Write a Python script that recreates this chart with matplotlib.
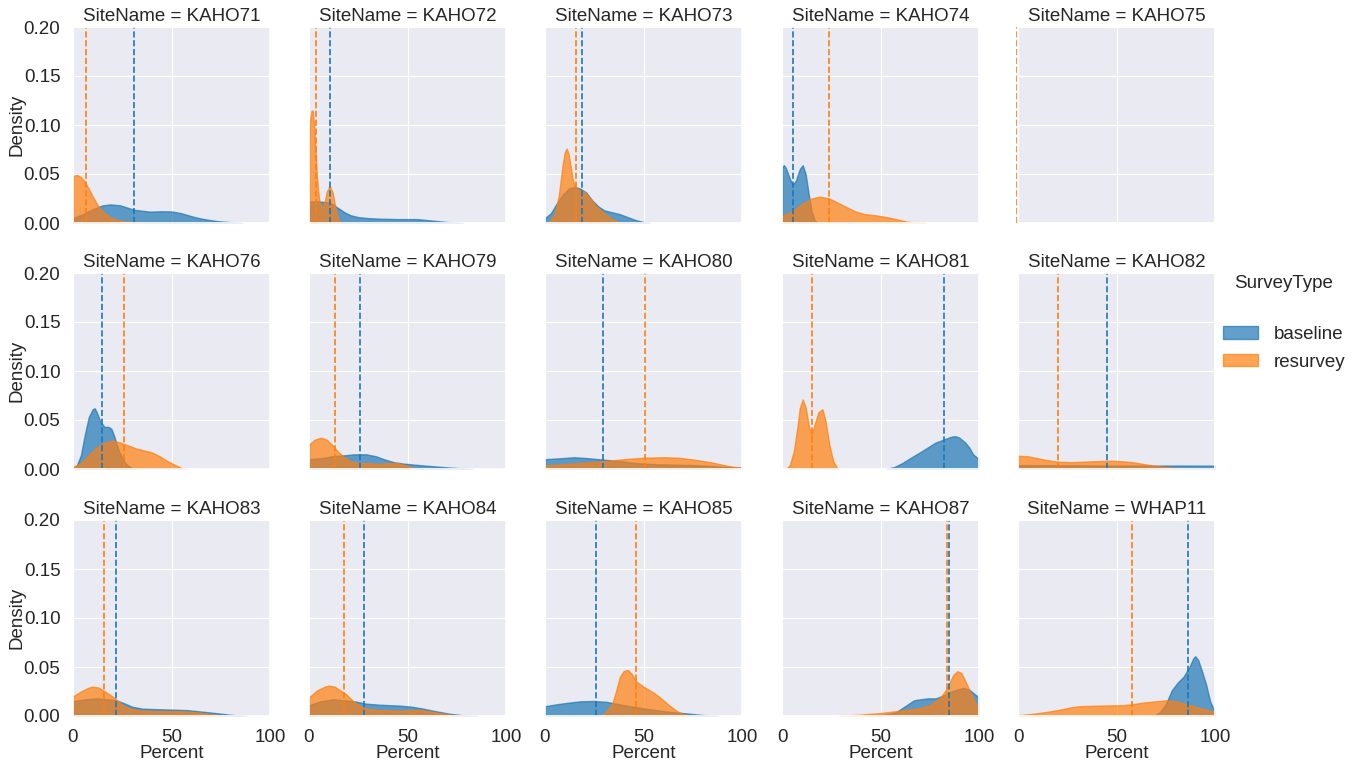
import numpy as np
import seaborn as sns
from matplotlib import pyplot as plt
from matplotlib.patches import Patch

sites = ["KAHO71", "KAHO72", "KAHO73", "KAHO74", "KAHO75",
         "KAHO76", "KAHO79", "KAHO80", "KAHO81", "KAHO82",
         "KAHO83", "KAHO84", "KAHO85", "KAHO87", "WHAP11"]

# density curves: (Percent, Density)
kaho71_base = [(0, 0.005), (5, 0.009), (10, 0.014), (15, 0.018), (19, 0.019), (24, 0.018), (31, 0.0135),
               (39, 0.0116), (45, 0.012), (50, 0.0118), (55, 0.01), (60, 0.007), (64, 0.005), (68, 0.0035),
               (73, 0.002), (79, 0.001), (86, 0)]
kaho71_res = [(0, 0.048), (2, 0.049), (4, 0.047), (6, 0.042), (8, 0.035), (10, 0.027), (12, 0.02),
              (14, 0.014), (16, 0.01), (18, 0.007), (21, 0.004), (25, 0.002), (30, 0.001), (35, 0)]
kaho72_base = [(0, 0.022), (5, 0.022), (10, 0.021), (12, 0.019), (15, 0.015), (18, 0.011), (21, 0.008),
               (25, 0.006), (30, 0.005), (35, 0.0045), (45, 0.004), (55, 0.004), (60, 0.003), (65, 0.002),
               (70, 0.001), (78, 0)]
kaho72_res = [(0, 0.085), (0.5, 0.104), (1.2, 0.114), (1.8, 0.115), (2.5, 0.103), (3.2, 0.078), (4, 0.048),
              (5, 0.026), (6, 0.017), (7, 0.016), (8, 0.022), (9, 0.032), (10.5, 0.038), (12, 0.031),
              (13, 0.02), (14, 0.01), (15, 0.004), (16, 0)]
kaho73_base = [(0, 0.005), (3, 0.01), (6, 0.02), (9, 0.029), (12, 0.035), (15, 0.037), (18, 0.035),
               (21, 0.031), (24, 0.023), (27, 0.017), (30, 0.013), (34, 0.011), (38, 0.009), (42, 0.006),
               (46, 0.003), (50, 0.001), (53, 0)]
kaho73_res = [(1.5, 0), (3, 0.003), (5, 0.01), (7, 0.028), (9, 0.06), (10, 0.072), (11, 0.076), (12, 0.07),
              (13, 0.058), (14, 0.045), (15, 0.038), (17, 0.034), (20, 0.032), (23, 0.025), (26, 0.017),
              (30, 0.01), (34, 0.004), (38, 0)]
kaho74_base = [(0, 0.057), (1, 0.059), (2, 0.056), (4, 0.045), (5.5, 0.039), (7, 0.043), (9, 0.055),
               (10.5, 0.059), (12, 0.05), (13.5, 0.03), (15, 0.012), (16.5, 0.003), (18, 0)]
kaho74_res = [(0, 0.007), (5, 0.012), (10, 0.019), (15, 0.025), (19, 0.027), (24, 0.025), (29, 0.02),
              (33, 0.016), (37, 0.012), (42, 0.009), (47, 0.008), (53, 0.006), (58, 0.004), (63, 0.0015),
              (68, 0.0005), (73, 0)]
kaho75_base = []
kaho75_res = []
kaho76_base = [(0, 0.0), (2, 0.004), (4, 0.014), (6, 0.035), (8, 0.053), (10, 0.061), (11, 0.062),
               (12, 0.058), (14, 0.048), (16, 0.043), (18, 0.043), (19.5, 0.041), (21, 0.033), (23, 0.02),
               (25, 0.011), (27, 0.005), (29, 0.002), (31, 0)]
kaho76_res = [(0, 0.002), (4, 0.006), (8, 0.014), (12, 0.022), (16, 0.027), (20, 0.029), (24, 0.027),
              (28, 0.024), (32, 0.021), (36, 0.019), (40, 0.017), (44, 0.013), (48, 0.008), (52, 0.004),
              (55, 0.001), (58, 0)]
kaho79_base = [(0, 0.01), (6, 0.011), (12, 0.013), (18, 0.014), (23, 0.015), (29, 0.015), (34, 0.013),
               (38, 0.01), (43, 0.007), (48, 0.0055), (56, 0.004), (62, 0.003), (68, 0.002), (75, 0.001),
               (83, 0)]
kaho79_res = [(0, 0.025), (3, 0.03), (6, 0.032), (9, 0.03), (12, 0.024), (15, 0.017), (18, 0.012),
              (21, 0.008), (25, 0.006), (30, 0.006), (35, 0.005), (40, 0.006), (45, 0.006), (50, 0.003),
              (55, 0)]
kaho80_base = [(0, 0.01), (8, 0.011), (15, 0.012), (22, 0.011), (30, 0.0095), (38, 0.008), (46, 0.006),
               (55, 0.005), (65, 0.0045), (75, 0.004), (85, 0.003), (92, 0.002), (100, 0.0015)]
kaho80_res = [(0, 0.0035), (10, 0.005), (20, 0.0065), (30, 0.008), (40, 0.01), (50, 0.0115), (60, 0.012),
              (68, 0.0115), (76, 0.0095), (84, 0.007), (92, 0.0035), (100, 0.001)]
kaho81_base = [(53, 0), (57, 0.002), (61, 0.006), (65, 0.011), (70, 0.017), (74, 0.022), (78, 0.027),
               (82, 0.03), (86, 0.033), (88, 0.0335), (90, 0.032), (93, 0.027), (95, 0.022), (97, 0.015),
               (100, 0.01)]
kaho81_res = [(2, 0), (4, 0.004), (6, 0.018), (8, 0.045), (9, 0.062), (10.5, 0.071), (12, 0.063),
              (13.5, 0.045), (15, 0.035), (16.5, 0.045), (18.5, 0.058), (20.5, 0.061), (22, 0.05),
              (24, 0.025), (26, 0.008), (28, 0.001), (29, 0)]
kaho82_base = [(0, 0.004), (20, 0.0038), (40, 0.0036), (60, 0.0035), (80, 0.0035), (100, 0.0034)]
kaho82_res = [(0, 0.0135), (5, 0.013), (10, 0.011), (15, 0.009), (20, 0.0075), (27, 0.007), (33, 0.0075),
              (40, 0.008), (46, 0.0085), (52, 0.008), (58, 0.007), (64, 0.005), (70, 0.003), (76, 0.0017),
              (82, 0.0005), (86, 0)]
kaho83_base = [(0, 0.015), (6, 0.017), (12, 0.018), (18, 0.017), (22, 0.016), (26, 0.013), (30, 0.0095),
               (35, 0.0075), (42, 0.007), (51, 0.0065), (58, 0.006), (63, 0.005), (70, 0.0035), (78, 0.0017),
               (84, 0.0005), (88, 0)]
kaho83_res = [(0, 0.02), (4, 0.025), (8, 0.029), (10, 0.03), (13, 0.029), (17, 0.024), (20, 0.02),
              (23, 0.015), (26, 0.01), (30, 0.007), (35, 0.0055), (42, 0.005), (50, 0.005), (58, 0.0045),
              (64, 0.0035), (71, 0.0015), (80, 0)]
kaho84_base = [(0, 0.011), (6, 0.015), (12, 0.017), (18, 0.016), (23, 0.015), (29, 0.0126), (36, 0.0115),
               (46, 0.0106), (52, 0.0095), (58, 0.0075), (64, 0.005), (71, 0.0024), (78, 0.0008), (85, 0)]
kaho84_res = [(0, 0.019), (4, 0.026), (8, 0.03), (10, 0.031), (13, 0.03), (16, 0.026), (19, 0.022),
              (22, 0.016), (26, 0.01), (30, 0.007), (36, 0.006), (45, 0.0055), (52, 0.006), (57, 0.006),
              (62, 0.0045), (68, 0.0025), (73, 0.001), (78, 0)]
kaho85_base = [(0, 0.01), (6, 0.012), (12, 0.0136), (18, 0.015), (25, 0.0153), (31, 0.0145), (36, 0.0126),
               (43, 0.01), (51, 0.0075), (60, 0.005), (68, 0.0034), (75, 0.002), (82, 0.0007), (88, 0)]
kaho85_res = [(28, 0), (31, 0.004), (34, 0.012), (36, 0.025), (38, 0.04), (40, 0.046), (42, 0.047),
              (44, 0.043), (46.5, 0.035), (50, 0.03), (55, 0.024), (59, 0.018), (63, 0.011), (67, 0.005),
              (70, 0.002), (74, 0)]
kaho87_base = [(43, 0), (50, 0.001), (55, 0.0025), (58, 0.004), (61, 0.008), (64, 0.012), (67, 0.016),
               (70, 0.017), (74, 0.018), (78, 0.018), (82, 0.021), (86, 0.025), (89, 0.027), (92, 0.0286),
               (95, 0.027), (98, 0.022), (100, 0.019)]
kaho87_res = [(29, 0), (36, 0.0008), (43, 0.002), (50, 0.003), (58, 0.005), (64, 0.0065), (70, 0.008),
              (75, 0.011), (80, 0.018), (83, 0.026), (85, 0.034), (87, 0.042), (89, 0.0457), (91, 0.044),
              (93, 0.036), (95, 0.027), (97, 0.018), (99, 0.01), (100, 0.0075)]
whap11_base = [(69, 0), (72, 0.004), (75, 0.012), (78, 0.026), (81, 0.034), (84, 0.04), (87, 0.05),
               (89, 0.059), (90, 0.061), (91.5, 0.057), (93.5, 0.045), (95.5, 0.032), (97.5, 0.015),
               (100, 0.004)]
whap11_res = [(0, 0.0007), (8, 0.0024), (14, 0.004), (20, 0.006), (26, 0.0085), (31, 0.01), (41, 0.0106),
              (53, 0.011), (58, 0.012), (63, 0.0136), (70, 0.015), (75, 0.016), (80, 0.015), (85, 0.0126),
              (90, 0.0095), (95, 0.0068), (100, 0.004)]

baseline_curves = [kaho71_base, kaho72_base, kaho73_base, kaho74_base, kaho75_base,
                   kaho76_base, kaho79_base, kaho80_base, kaho81_base, kaho82_base,
                   kaho83_base, kaho84_base, kaho85_base, kaho87_base, whap11_base]
resurvey_curves = [kaho71_res, kaho72_res, kaho73_res, kaho74_res, kaho75_res,
                   kaho76_res, kaho79_res, kaho80_res, kaho81_res, kaho82_res,
                   kaho83_res, kaho84_res, kaho85_res, kaho87_res, whap11_res]

# mean Percent per site (dashed lines)
baseline_means = [31.0, 10.6, 18.9, 5.4, np.nan, 14.6, 26.0, 29.5, 82.3, 45.3, 21.7, 28.0, 25.8, 84.8, 86.5]
resurvey_means = [6.4, 3.5, 15.7, 23.9, -0.3, 26.0, 13.3, 50.7, 15.2, 20.4, 15.9, 18.0, 46.3, 83.7, 57.9]

blue, orange = "#1f77b4", "#ff7f0e"
fs = 13.5

sns.set_theme(style = "darkgrid", rc = {"grid.linewidth": 0.8})
plt.rcParams["font.family"] = ["Liberation Sans", "DejaVu Sans"]

fig = plt.figure(figsize = (13.56, 7.70), dpi = 100)
W, H = 1356, 770
lefts = [73, 309, 545, 782, 1018]
tops = [27, 273, 520]
aw, ah = 197, 196

for i, site in enumerate(sites):
    r, c = divmod(i, 5)
    ax = fig.add_axes([lefts[c] / W, 1 - (tops[r] + ah) / H, aw / W, ah / H])
    for pts, col in ((baseline_curves[i], blue), (resurvey_curves[i], orange)):
        if pts:
            x, y = zip(*pts)
            ax.fill_between(x, y, color = col, alpha = 0.7, lw = 1)
    if not np.isnan(baseline_means[i]):
        ax.axvline(baseline_means[i], color = blue, ls = "--", lw = 1.2, clip_on = False)
    ax.axvline(resurvey_means[i], color = orange, ls = "--", lw = 1.2, clip_on = False)
    ax.set_xlim(0, 100)
    ax.set_ylim(0, 0.2)
    ax.set_xticks([0, 50, 100])
    ax.set_yticks([0, 0.05, 0.1, 0.15, 0.2])
    ax.tick_params(labelsize = fs, pad = 3)
    ax.set_title(f"SiteName = {site}", fontsize = fs, pad = 4)
    if c == 0:
        ax.set_yticklabels(["0.00", "0.05", "0.10", "0.15", "0.20"])
        ax.set_ylabel("Density", fontsize = fs)
        ax.yaxis.set_label_coords(-0.24, 0.5)
    else:
        ax.set_yticklabels([])
    if r == 2:
        ax.set_xticklabels(["0", "50", "100"])
        ax.set_xlabel("Percent", fontsize = fs, labelpad = 0)
    else:
        ax.set_xticklabels([])

fig.text(1284 / W, 1 - 283 / H, "SurveyType", ha = "center", va = "center", fontsize = fs)
handles = [Patch(facecolor = blue, edgecolor = blue, alpha = 0.7),
           Patch(facecolor = orange, edgecolor = orange, alpha = 0.7)]
fig.legend(handles, ["baseline", "resurvey"], loc = "upper left",
           bbox_to_anchor = (1223 / W, 1 - 326 / H), frameon = False, fontsize = fs,
           borderpad = 0, borderaxespad = 0, labelspacing = 0.57,
           handlelength = 1.85, handleheight = 0.65, handletextpad = 0.85)

fig.savefig("out.png", dpi = 100)
